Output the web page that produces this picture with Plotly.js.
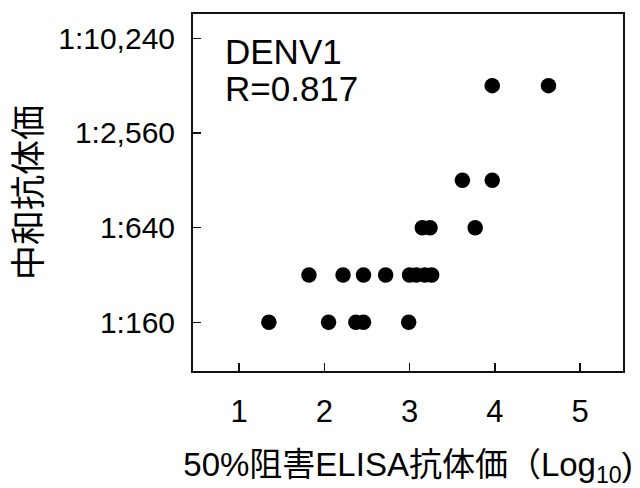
<!DOCTYPE html>
<html>
<head>
<meta charset="utf-8">
<script src="https://cdn.plot.ly/plotly-3.0.1.min.js"></script>
<style>html,body{margin:0;padding:0;background:#fff;}#chart{width:640px;height:488px;}</style>
</head>
<body>
<div id="chart"></div>
<script>
// ELISA 50% inhibition titer (log10) vs neutralizing titer
const elisaLog10 = [1.35, 2.05, 2.37, 2.46, 2.99,
                    1.82, 2.22, 2.46, 2.72, 3.00, 3.08, 3.18, 3.26,
                    3.15, 3.24, 3.77,
                    3.62, 3.97,
                    3.97, 4.63];
const neutTiter = [160, 160, 160, 160, 160,
                   320, 320, 320, 320, 320, 320, 320, 320,
                   640, 640, 640,
                   1280, 1280,
                   5120, 5120];
const yTickVals = [160, 640, 2560, 10240];
const yTickText = ['1:160', '1:640', '1:2,560', '1:10,240'];
const xTickVals = [1, 2, 3, 4, 5];
const serotype = 'DENV1';
const rValue = 'R=0.817';

const FONT = '"Liberation Sans", Arial, "Noto Sans CJK JP", sans-serif';

const trace = {
  x: elisaLog10,
  y: neutTiter,
  type: 'scatter',
  mode: 'markers',
  marker: {color: '#000', size: 15.5},
  hoverinfo: 'x+y'
};

const layout = {
  width: 640, height: 488,
  margin: {l: 193, r: 17, t: 14, b: 117},
  paper_bgcolor: '#fff', plot_bgcolor: '#fff',
  font: {family: FONT, color: '#000'},
  showlegend: false,
  xaxis: {
    range: [0.46, 5.504],
    tickvals: xTickVals,
    ticks: 'inside', ticklen: 8, tickwidth: 1.5, tickcolor: '#111',
    showline: true, linecolor: '#111', linewidth: 2, mirror: true,
    showgrid: false, zeroline: false,
    tickfont: {size: 31, family: FONT},
    ticklabelstandoff: 12,
    title: {text: '50%阻害ELISA抗体価（Log<sub>10</sub>)', font: {size: 33, family: FONT}, standoff: 26}
  },
  yaxis: {
    type: 'log',
    range: [1.8946, 4.1648],
    tickvals: yTickVals, ticktext: yTickText,
    ticks: 'inside', ticklen: 8, tickwidth: 1.5, tickcolor: '#111',
    showline: true, linecolor: '#111', linewidth: 2, mirror: true,
    showgrid: false, zeroline: false,
    tickfont: {size: 30, family: FONT},
    ticklabelstandoff: 10,
    title: {text: '中和抗体価', font: {size: 35, family: FONT}, standoff: 6}
  },
  annotations: [
    {xref: 'paper', yref: 'paper', x: 0.07, y: 0.895, xanchor: 'left', yanchor: 'middle',
     text: serotype, showarrow: false, font: {size: 35, family: FONT}},
    {xref: 'paper', yref: 'paper', x: 0.07, y: 0.79, xanchor: 'left', yanchor: 'middle',
     text: rValue, showarrow: false, font: {size: 35, family: FONT}}
  ]
};

Plotly.newPlot('chart', [trace], layout, {displayModeBar: false, staticPlot: true});
</script>
</body>
</html>
